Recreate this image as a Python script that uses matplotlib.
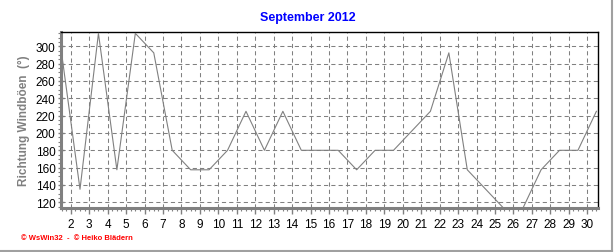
import matplotlib
matplotlib.use("Agg")
import matplotlib.pyplot as plt
from matplotlib.lines import Line2D
from matplotlib.ticker import MultipleLocator

plt.rcParams['font.family'] = ['Liberation Sans', 'DejaVu Sans']

days = list(range(1, 31))
direction = [292.5, 135, 315, 157.5, 315, 292.5, 180, 157.5, 157.5, 180,
             225, 180, 225, 180, 180, 180, 157.5, 180, 180, 202.5,
             225, 292.5, 157.5, 135, 112.5, 112.5, 157.5, 180, 180, 225]
xtick_labels = [str(d) for d in range(2, 31)]
yticks = [120, 140, 160, 180, 200, 220, 240, 260, 280, 300]

W, H = 616, 253
fig = plt.figure(figsize=(W / 100, H / 100), dpi=100)
fig.patch.set_facecolor('white')

L, R, T, B = 61, 597.5, 33.3, 209
ax = fig.add_axes([L / W, 1 - B / H, (R - L) / W, (B - T) / H])

xs = [d + 0.5 for d in days]
ax.plot(xs, direction, color='#808080', lw=0.8, zorder=3)

ax.set_xlim(1.47, 30.56)
ax.set_ylim(113.4, 316.2)

ax.set_xticks(list(range(2, 31)))
ax.set_xticklabels(xtick_labels)
ax.xaxis.set_minor_locator(MultipleLocator(0.25))
ax.set_yticks(yticks)
ax.yaxis.set_minor_locator(MultipleLocator(5))

ax.grid(True, which='major', color='#808080', linestyle=(0, (4, 3)), lw=0.75)

for s in ['left', 'bottom']:
    ax.spines[s].set_color('#808080')
    ax.spines[s].set_linewidth(2.2)
for s in ['top', 'right']:
    ax.spines[s].set_color('black')
    ax.spines[s].set_linewidth(1.0)

ax.tick_params(axis='both', which='major', labelsize=8.5, colors='#808080',
               labelcolor='black', length=4, width=1, direction='inout')
ax.tick_params(axis='x', which='major', direction='out', length=4, pad=3)
ax.tick_params(axis='both', which='minor', colors='#808080', length=2.5,
               width=0.8, direction='out')
ax.tick_params(axis='y', which='major', pad=2)

ax.set_ylabel('Richtung Windböen  (°)', color='#808080', fontsize=8.5,
              fontweight='bold', labelpad=4)

fig.text(308 / W, 1 - 18 / H, 'September 2012', color='#0000FF',
         fontsize=9, fontweight='bold', ha='center', va='center')

fig.text(21 / W, 1 - 239 / H, '© WsWin32  -  © Heiko Blädern', color='#FF0000',
         fontsize=5.5, fontweight='bold', ha='left', va='center')

fig.add_artist(Line2D([612 / W, 612 / W], [1 - 251.5 / H, 1.0],
                      transform=fig.transFigure, color='#A0A0A0', lw=1.5))
fig.add_artist(Line2D([0, 612 / W], [1 - 251.5 / H, 1 - 251.5 / H],
                      transform=fig.transFigure, color='#A0A0A0', lw=1.5))

fig.savefig('out.png', dpi=100)
